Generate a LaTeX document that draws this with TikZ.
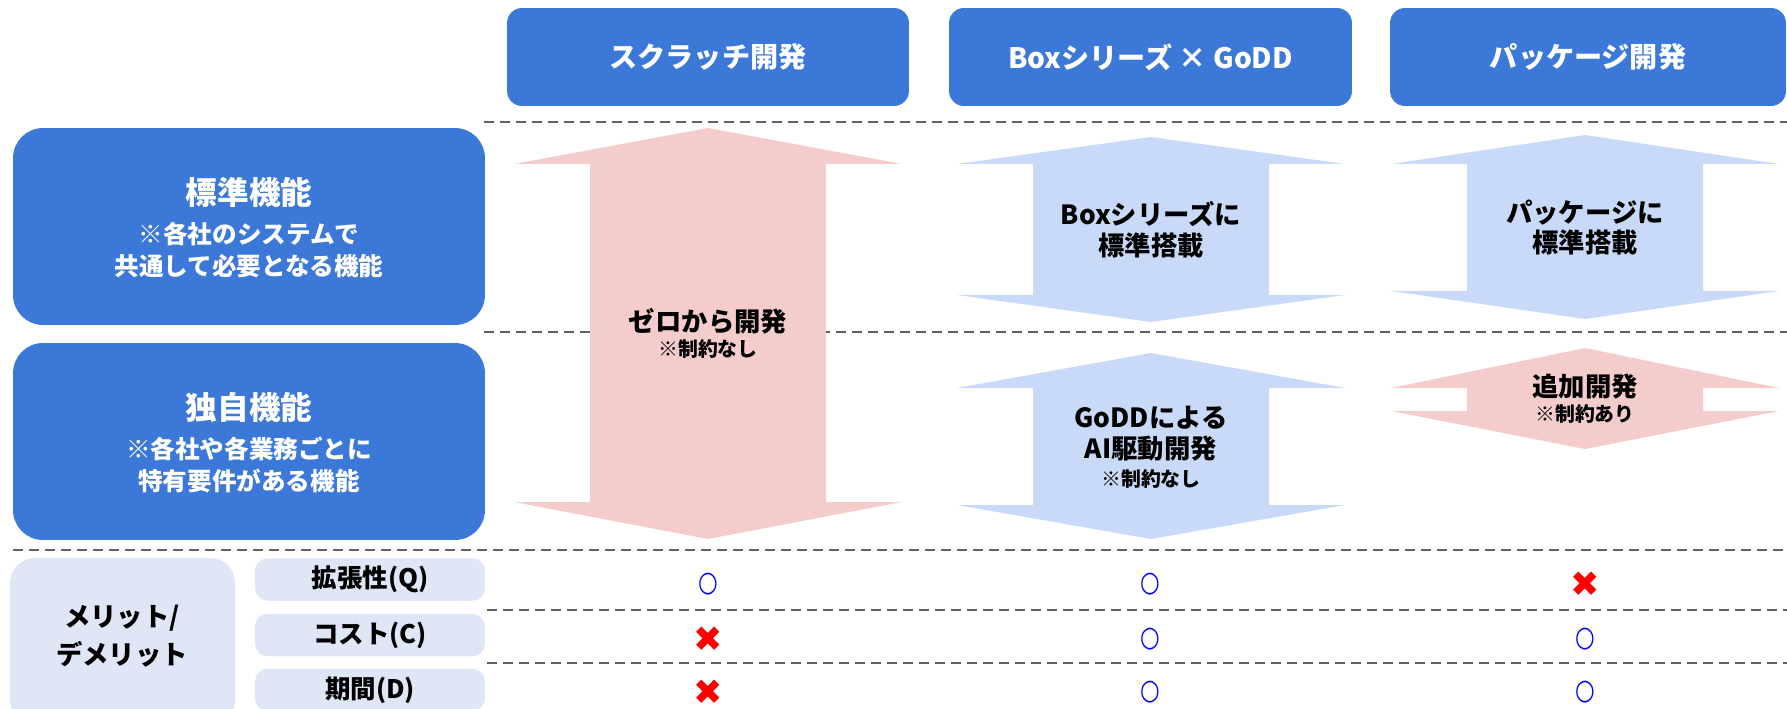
\documentclass[tikz,border=0pt]{standalone}
\usepackage{fontspec}
\setmainfont{Noto Sans CJK JP}
\newfontfamily\symfont{DejaVu Sans}
\definecolor{hdrblue}{HTML}{3C78D8}
\definecolor{arrblue}{HTML}{C9DAF8}
\definecolor{arrpink}{HTML}{F4CCCC}
\definecolor{rowblue}{HTML}{DFE7F7}
\definecolor{lineg}{HTML}{606060}
\begin{document}
\begin{tikzpicture}[x=0.02cm,y=-0.02cm,
    hdr/.style={fill=hdrblue,rounded corners=0.3cm,text=white,inner sep=0pt,
      minimum height=1.96cm,font=\bfseries\fontsize{16}{19}\selectfont},
    sidebox/.style={fill=hdrblue,rounded corners=0.6cm,minimum width=9.44cm,minimum height=3.94cm},
    rowbox/.style={fill=rowblue,rounded corners=0.25cm,minimum width=4.6cm,minimum height=0.85cm,
      inner sep=0pt,font=\bfseries\fontsize{14.5}{17}\selectfont},
    sidetitle/.style={text=white,font=\bfseries\fontsize{18}{21}\selectfont},
    sidenote/.style={text=white,align=center,font=\bfseries\fontsize{14}{18.2}\selectfont},
    arrtext/.style={align=center,font=\bfseries\fontsize{15}{17.6}\selectfont},
    arrnote/.style={font=\bfseries\fontsize{11.3}{13}\selectfont},
    sep/.style={lineg,line width=1.1pt,dash pattern=on 0.2cm off 0.12cm},
    good/.style={text=blue,inner sep=0pt,font=\symfont\bfseries\fontsize{13.5}{13.5}\selectfont},
    bad/.style={text=red,inner sep=0pt,font=\symfont\fontsize{20}{20}\selectfont}]
  \useasboundingbox (0,0) rectangle (1787,709);
  \clip (0,0) rectangle (1787,709);
  %% column headers
  \node[hdr,minimum width=8.04cm] (scratch) at (708,57) {スクラッチ開発};
  \node[hdr,minimum width=8.06cm] (boxgodd) at (1150.5,57) {Boxシリーズ × GoDD};
  \node[hdr,minimum width=7.92cm] (package) at (1588,57) {パッケージ開発};
  %% row headers
  \node[sidebox] (std) at (249,226.5) {};
  \node[sidetitle] (stdtitle) at (249,192) {標準機能};
  \node[sidenote] (stdnote) at (249,250) {※各社のシステムで\\共通して必要となる機能};
  \node[sidebox] (own) at (249,441.5) {};
  \node[sidetitle] (owntitle) at (249,407) {独自機能};
  \node[sidenote] (ownnote) at (249,464.5) {※各社や各業務ごとに\\特有要件がある機能};
  %% separators
  \draw[sep] (484,122) -- (1787,122);
  \draw[sep] (484,332) -- (1787,332);
  \draw[sep] (13,550) -- (1787,550);
  \foreach \y in {610,663} \draw[sep] (487,\y) -- (1787,\y);
  %% double arrows
  \foreach \cx/\tp/\hb/\lb/\bt/\col in {708/128/164/502/539/arrpink,
      1151/137/164/295/322/arrblue, 1585/135/164/291/319/arrblue,
      1151/353/388/505/539/arrblue, 1585/348/388/411/449/arrpink}
    \fill[\col] (\cx,\tp) -- (\cx+194,\hb) -- (\cx+118,\hb) -- (\cx+118,\lb) -- (\cx+194,\lb)
      -- (\cx,\bt) -- (\cx-194,\lb) -- (\cx-118,\lb) -- (\cx-118,\hb) -- (\cx-194,\hb) -- cycle;
  \node[arrtext] (zero) at (708,321) {ゼロから開発};
  \node[arrnote] (zeronote) at (708,349) {※制約なし};
  \node[arrtext] (boxstd) at (1151,229.5) {Boxシリーズに\\標準搭載};
  \node[arrtext] (pkgstd) at (1585,227.5) {パッケージに\\標準搭載};
  \node[arrtext] (goddai) at (1151,434) {GoDDによる\\AI駆動開発};
  \node[arrnote] (goddnote) at (1151,479) {※制約なし};
  \node[arrtext] (addon) at (1585,387) {追加開発};
  \node[arrnote] (addonnote) at (1585,414) {※制約あり};
  %% merits / demerits
  \node[fill=rowblue,rounded corners=0.5cm,minimum width=4.5cm,minimum height=3.34cm] (merit) at (122.5,641.5) {};
  \node[align=center,font=\bfseries\fontsize{15}{21.6}\selectfont] (merittext) at (122,636) {メリット/\\デメリット};
  \node[rowbox] (rowq) at (370,579.5) {拡張性(Q)};
  \node[rowbox] (rowc) at (370,635) {コスト(C)};
  \node[rowbox] (rowd) at (370,690) {期間(D)};
  \node[good] (q1) at (708,584) {\scalebox{0.95}[1.2]{○}};
  \node[good] (q2) at (1150,584) {\scalebox{0.95}[1.2]{○}};
  \node[bad] (q3) at (1585,584) {✖};
  \node[bad] (c1) at (708,639) {✖};
  \node[good] (c2) at (1150,639) {\scalebox{0.95}[1.2]{○}};
  \node[good] (c3) at (1585,639) {\scalebox{0.95}[1.2]{○}};
  \node[bad] (d1) at (708,692) {✖};
  \node[good] (d2) at (1150,692) {\scalebox{0.95}[1.2]{○}};
  \node[good] (d3) at (1585,692) {\scalebox{0.95}[1.2]{○}};
\end{tikzpicture}
\end{document}
